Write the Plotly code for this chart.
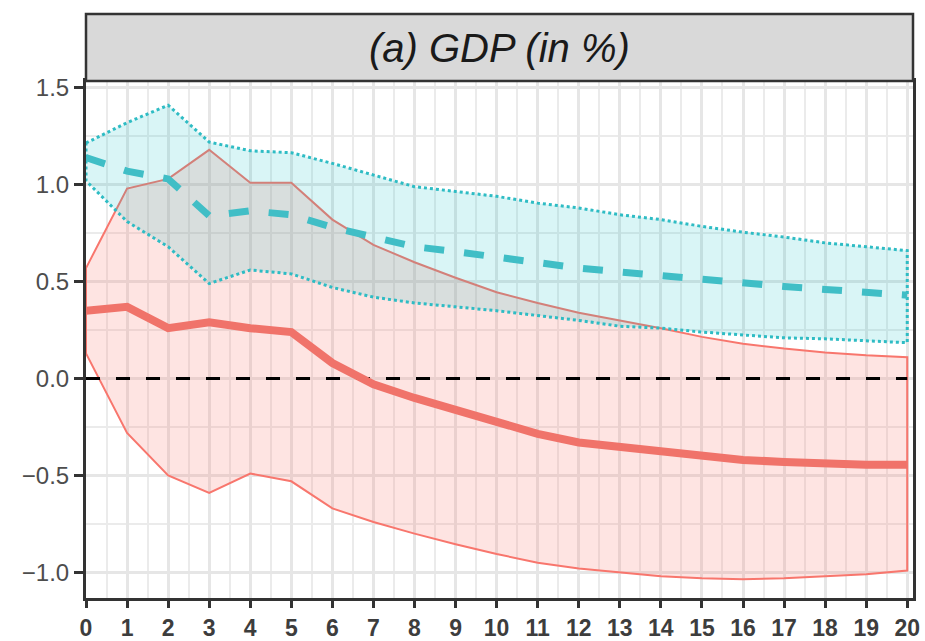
import plotly.graph_objects as go

horizon = list(range(0, 21))

red_median = [0.35, 0.37, 0.26, 0.29, 0.26, 0.24, 0.08, -0.03, -0.10, -0.165, -0.23,
              -0.285, -0.33, -0.355, -0.38, -0.405, -0.42, -0.43, -0.44, -0.445, -0.445]
red_upper = [0.57, 0.98, 1.03, 1.18, 1.01, 1.01, 0.82, 0.69, 0.60, 0.52, 0.445,
             0.39, 0.34, 0.30, 0.26, 0.215, 0.18, 0.155, 0.135, 0.12, 0.11]
red_lower = [0.13, -0.28, -0.50, -0.59, -0.49, -0.53, -0.67, -0.74, -0.80, -0.855, -0.905,
             -0.95, -0.98, -1.00, -1.02, -1.03, -1.035, -1.03, -1.02, -1.01, -0.99]

teal_median = [1.14, 1.07, 1.03, 0.84, 0.865, 0.845, 0.78, 0.73, 0.68, 0.655, 0.625,
               0.595, 0.57, 0.55, 0.53, 0.51, 0.49, 0.475, 0.46, 0.445, 0.43]
teal_upper = [1.215, 1.32, 1.41, 1.22, 1.175, 1.165, 1.11, 1.05, 0.99, 0.965, 0.94,
              0.905, 0.88, 0.845, 0.82, 0.785, 0.755, 0.73, 0.70, 0.68, 0.66]
teal_lower = [1.02, 0.81, 0.68, 0.49, 0.56, 0.54, 0.47, 0.42, 0.39, 0.37, 0.35,
              0.325, 0.30, 0.27, 0.26, 0.24, 0.225, 0.21, 0.205, 0.195, 0.185]

zero_x = [0, 20]
zero_y = [0, 0]

x_ticks = list(range(0, 21))
y_ticks = [-1.0, -0.5, 0.0, 0.5, 1.0, 1.5]
y_ticklabels = ["\u22121.0", "\u22120.5", "0.0", "0.5", "1.0", "1.5"]

panel_title = "(a) GDP (in %)"

RED = "#F8766D"
TEAL = "#00BFC4"

fig = go.Figure()

# red ribbon
fig.add_trace(go.Scatter(
    x=horizon + horizon[::-1] + [horizon[0]],
    y=red_upper + red_lower[::-1] + [red_upper[0]],
    mode="lines", fill="toself", fillcolor="rgba(248,118,109,0.2)",
    line=dict(color=RED, width=2), hoverinfo="skip", showlegend=False))

# teal ribbon
fig.add_trace(go.Scatter(
    x=horizon + horizon[::-1] + [horizon[0]],
    y=teal_upper + teal_lower[::-1] + [teal_upper[0]],
    mode="lines", fill="toself", fillcolor="rgba(0,191,196,0.15)",
    line=dict(color="#2EBCC4", width=3, dash="dot"), hoverinfo="skip", showlegend=False))

# zero line
fig.add_trace(go.Scatter(
    x=zero_x, y=zero_y, mode="lines",
    line=dict(color="black", width=3, dash="14px,16px"), showlegend=False))

# medians
fig.add_trace(go.Scatter(
    x=horizon, y=red_median, mode="lines",
    line=dict(color="#F0736A", width=8), showlegend=False))
fig.add_trace(go.Scatter(
    x=horizon, y=teal_median, mode="lines",
    line=dict(color="#40BEC6", width=7, dash="20px,20px"), showlegend=False))

fig.update_layout(
    width=925, height=641,
    margin=dict(l=86, r=12, t=81, b=43),
    paper_bgcolor="white", plot_bgcolor="white",
    font=dict(family="Liberation Sans, Arial, sans-serif"),
    showlegend=False,
)

fig.update_xaxes(
    range=[0, 20.14], tickmode="array", tickvals=x_ticks,
    showgrid=True, gridcolor="#E6E6E6", gridwidth=2.5,
    minor=dict(dtick=0.5, showgrid=True, gridcolor="#EBEBEB", gridwidth=1.5),
    showline=True, linecolor="#333333", linewidth=3, mirror=True,
    ticks="outside", ticklen=7, tickwidth=2.5, tickcolor="#333333",
    tickfont=dict(size=23, color="#3d3d3d", weight="bold"),
    zeroline=False, automargin=False,
)
fig.update_yaxes(
    range=[-1.132, 1.535], tickmode="array", tickvals=y_ticks, ticktext=y_ticklabels,
    showgrid=True, gridcolor="#E6E6E6", gridwidth=2.5,
    minor=dict(dtick=0.25, tick0=0, showgrid=True, gridcolor="#EBEBEB", gridwidth=1.5),
    showline=True, linecolor="#333333", linewidth=3, mirror=True,
    ticks="outside", ticklen=9, tickwidth=2.5, tickcolor="#333333",
    tickfont=dict(size=24, color="#4D4D4D"),
    zeroline=False, automargin=False,
)

# strip
fig.add_shape(type="rect", xref="paper", yref="paper",
              x0=0, x1=1, y0=1.0, y1=1 + 67 / 517,
              fillcolor="#D9D9D9", line=dict(color="#333333", width=2.5), layer="above")
fig.add_annotation(text=panel_title, xref="paper", yref="paper",
                   x=0.5, y=1 + 33.5 / 517, showarrow=False,
                   xanchor="center", yanchor="middle",
                   font=dict(size=40, color="#1a1a1a", style="italic"))

fig.write_html("out.html")
